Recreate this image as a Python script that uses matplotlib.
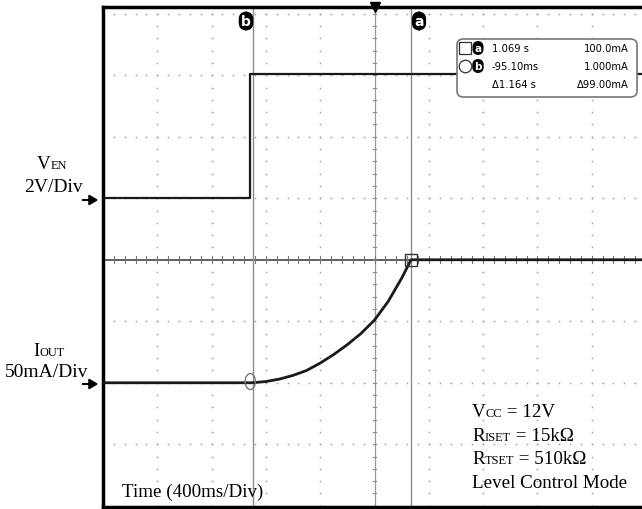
import numpy as np
import matplotlib
matplotlib.use("Agg")
from matplotlib import pyplot as plt
from matplotlib.patches import Ellipse, FancyBboxPatch, FancyArrowPatch
from matplotlib.offsetbox import TextArea, HPacker, AnnotationBbox

W, H = 642, 510

# scope settings
t_div = 0.4          # s / div
ven_div = 2.0        # V / div
iout_div = 50.0      # mA / div
ven_zero = 1.0       # channel ground marker, in divisions from centre
iout_zero = -2.0
t_left, t_right = -1.2, 2.8

# traces
ven_t = [-1.2, -0.12, -0.12, 2.8]
ven_v = [0.0, 0.0, 4.05, 4.05]

iout_t = [-1.2, -0.10, 0.0, 0.1, 0.2, 0.3, 0.4, 0.5, 0.6, 0.7, 0.8, 0.9, 1.0, 1.069, 2.8]
iout_ma = [0, 0, 1, 3, 6, 10, 16, 23, 31, 40, 51, 66, 85, 100, 100]

# cursors
cur_a_t, cur_a_ma = 1.069, 100.0
cur_b_t, cur_b_ma = -0.0951, 1.0
readout = [("1.069 s", "100.0mA"), ("-95.10ms", "1.000mA"), ("\u03941.164 s", "\u039499.00mA")]

serif = "Liberation Serif"
scope_font = ["DejaVu Sans"]

fig = plt.figure(figsize=(W / 100, H / 100), dpi=100)
ax_l, ax_r, ax_t, ax_b = 103, 646, 8, 508
ax = fig.add_axes([ax_l / W, (H - ax_b) / H, (ax_r - ax_l) / W, (ax_b - ax_t) / H])
ax.set_xlim(t_left, t_right)
ax.set_ylim(-4.02, 4.11)
ax.set_xticks([])
ax.set_yticks([])
for s in ("left", "top", "bottom"):
    ax.spines[s].set_linewidth(2.5)
ax.spines["right"].set_visible(False)

def px(x, y):
    # figure pixel (from top-left) -> axes fraction
    return (x - ax_l) / (ax_r - ax_l), (ax_b - y) / (ax_b - ax_t)

# graticule
gx = t_left + t_div * np.arange(0, 11)
gy = np.arange(-4, 5)
mx = np.arange(t_left, t_right + 1e-9, t_div / 5)
my = np.arange(-4, 4.01, 0.2)
for x in gx:
    if abs(x - 0.8) > 1e-6:
        ax.plot(np.full_like(my, x), my, ls="none", marker="s", ms=1.1, color="#a0a0a0", mew=0)
for y in gy:
    if y != 0:
        ax.plot(mx, np.full_like(mx, y), ls="none", marker="s", ms=1.1, color="#a0a0a0", mew=0)
# centre cross with minor ticks
ax.axvline(0.8, color="#9a9a9a", lw=0.9, zorder=1)
ax.axhline(0, color="#555555", lw=1.3, zorder=1)
for x in mx:
    ax.plot([x, x], [-0.06, 0.06], color="#777777", lw=0.8)
for y in my:
    ax.plot([0.8 - 0.012, 0.8 + 0.012], [y, y], color="#888888", lw=0.8)

# cursors
for t in (cur_a_t, cur_b_t):
    ax.axvline(t, color="#8c8c8c", lw=1.0, zorder=2)

# traces
ven_y = [v / ven_div + ven_zero for v in ven_v]
iout_y = [i / iout_div + iout_zero for i in iout_ma]
ax.plot(ven_t, ven_y, color="#1a1a1a", lw=1.6, zorder=3)
ax.plot(iout_t, iout_y, color="#1a1a1a", lw=2.0, zorder=3)

# cursor markers
ax.add_patch(Ellipse((cur_b_t - 0.02, cur_b_ma / iout_div + iout_zero), 0.075, 0.26,
                     fill=False, ec="#777777", lw=1.0, zorder=4))
ax.plot([cur_a_t], [cur_a_ma / iout_div + iout_zero], marker="s", ms=9, mfc="none",
        mec="#333333", mew=1.0, zorder=4)

# cursor tags at top
tag = dict(color="white", fontsize=10, fontweight="bold", ha="center", va="center",
           family="DejaVu Sans", transform=ax.transAxes, zorder=6,
           bbox=dict(boxstyle="round,pad=0.12,rounding_size=0.5", fc="black", ec="black"))
ax.text(*px(246, 22), "b", **tag)
ax.text(*px(419, 22), "a", **tag)

# trigger marker
ax.plot([0.8], [4.11], marker="v", ms=7, color="black", clip_on=False, zorder=6)

# readout box
bx0, by0 = px(457, 98)
bx1, by1 = px(637, 40)
ax.add_patch(FancyBboxPatch((bx0, by0), bx1 - bx0, by1 - by0, transform=ax.transAxes,
                            boxstyle="round,pad=0,rounding_size=0.012", fc="white",
                            ec="#777777", lw=1.2, zorder=5))
rows_y = [49, 67, 85]
ax.plot(*px(465, rows_y[0]), marker="s", ms=9, mfc="white", mec="#333333", mew=0.9,
        transform=ax.transAxes, zorder=6)
ax.plot(*px(465, rows_y[1]), marker="o", ms=9, mfc="white", mec="#333333", mew=0.9,
        transform=ax.transAxes, zorder=6)
small_tag = dict(tag, fontsize=7.5)
ax.text(*px(478, rows_y[0]), "a", **small_tag)
ax.text(*px(478, rows_y[1]), "b", **small_tag)
for (left, right), y in zip(readout, rows_y):
    ax.text(*px(492, y), left, family=scope_font, fontsize=8, ha="left", va="center",
            fontstretch="condensed", transform=ax.transAxes, zorder=6)
    ax.text(*px(629, y), right, family=scope_font, fontsize=8, ha="right", va="center",
            fontstretch="condensed", transform=ax.transAxes, zorder=6)

# labels with small-caps subscripts
def sc_label(x, y, parts, align=0.0, size=13.7):
    kids = [TextArea(s, textprops=dict(family=serif, size=size if big else size * 0.65,
                                       color="black"))
            for s, big in parts]
    box = HPacker(children=kids, align="baseline", pad=0, sep=0)
    fig.add_artist(AnnotationBbox(box, (x, H - y), xycoords="figure pixels",
                                  box_alignment=(align, 0.5), frameon=False, pad=0))

sc_label(52, 165, [("V", True), ("EN", False)], 0.5)
fig.text(53 / W, 1 - 188 / H, "2V/Div", family=serif, size=14, ha="center", va="center")
sc_label(49, 352, [("I", True), ("OUT", False)], 0.5)
fig.text(47 / W, 1 - 373 / H, "50mA/Div", family=serif, size=14, ha="center", va="center")

for y in (201, 385):
    fig.add_artist(FancyArrowPatch((80, H - y), (101, H - y), transform=None,
                   arrowstyle="-|>,head_length=5,head_width=3", color="black", lw=1.5))

sc_label(472, 413, [("V", True), ("CC", False), (" = 12V", True)])
sc_label(472, 437, [("R", True), ("ISET", False), (" = 15k\u03a9", True)])
sc_label(472, 460, [("R", True), ("TSET", False), (" = 510k\u03a9", True)])
sc_label(472, 484, [("Level Control Mode", True)])
sc_label(122, 492, [("Time (400ms/Div)", True)])

fig.savefig("out.png", dpi=100)
